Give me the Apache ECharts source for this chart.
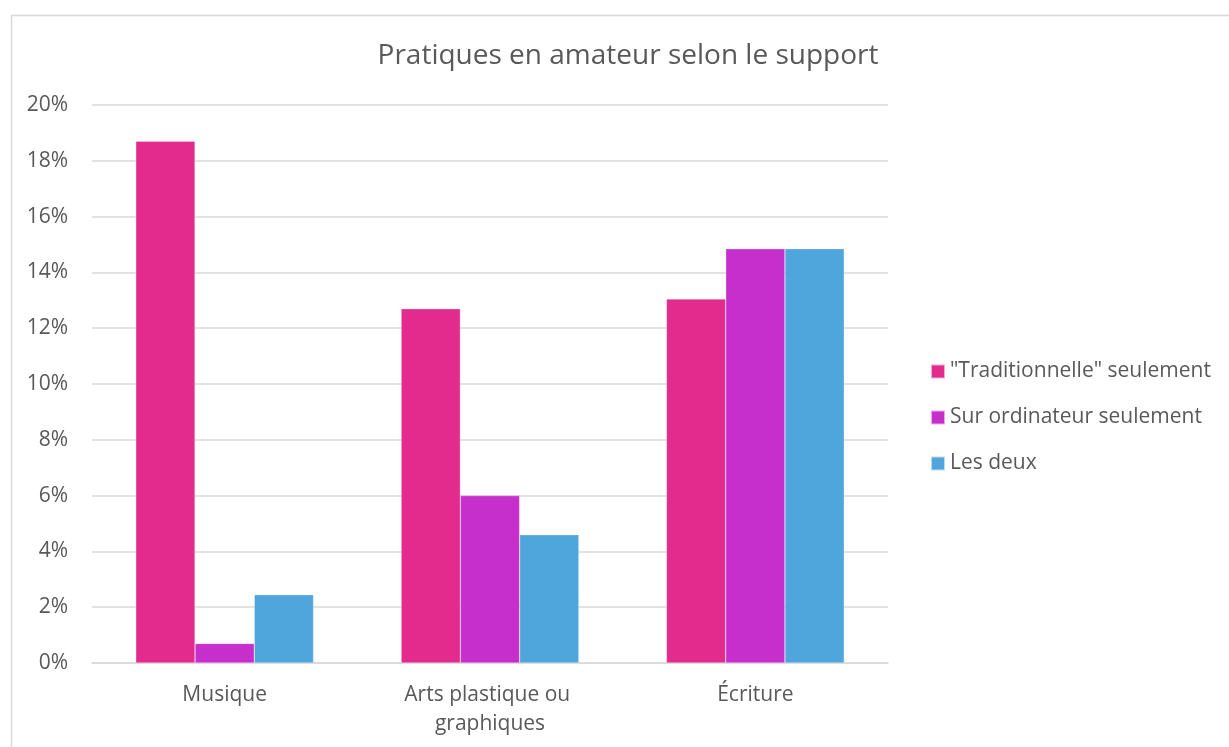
<!DOCTYPE html>
<html>
<head>
<meta charset="utf-8">
<script src="https://cdn.jsdelivr.net/npm/echarts@6/dist/echarts.min.js"></script>
<style>
html,body{margin:0;padding:0;background:#fff;}
#chart{width:1229px;height:747px;}
</style>
</head>
<body>
<div id="chart"></div>
<script>
var titleText = 'Pratiques en amateur selon le support';
var categories = ['Musique', 'Arts plastique ou graphiques', 'Écriture'];
var seriesNames = ['"Traditionnelle" seulement', 'Sur ordinateur seulement', 'Les deux'];
var traditionnelle = [18.7, 12.7, 13.05];
var ordinateur = [0.7, 6.0, 14.85];
var lesDeux = [2.45, 4.6, 14.85];
var colors = ['#E32B8E', '#C62FCB', '#4EA6DC'];
var yTicks = {min: 0, max: 20, interval: 2};

var chart = echarts.init(document.getElementById('chart'), null, {renderer: 'canvas'});
var font = '"Open Sans", "Noto Sans", sans-serif';
var txt = '#595959';
var values = [traditionnelle, ordinateur, lesDeux];
chart.setOption({
  animation: false,
  backgroundColor: '#fff',
  color: colors,
  graphic: [{
    type: 'rect', left: 9, top: 13,
    shape: {width: 1240, height: 760},
    style: {fill: 'none', stroke: '#d9d9d9', lineWidth: 1.5},
    silent: true
  }],
  title: {
    text: titleText,
    left: 623, top: 37, textAlign: 'center',
    textStyle: {fontFamily: font, fontSize: 28, fontWeight: 'normal', color: txt}
  },
  legend: {
    orient: 'vertical', left: 925, top: 356,
    itemWidth: 14, itemHeight: 14, itemGap: 25,
    icon: 'rect',
    textStyle: {fontFamily: font, fontSize: 21, color: txt},
    data: seriesNames
  },
  grid: {left: 92, right: 341, top: 105, bottom: 84, containLabel: false},
  xAxis: {
    type: 'category',
    data: categories,
    axisLine: {lineStyle: {color: '#d9d9d9', width: 1.5}},
    axisTick: {show: false},
    axisLabel: {
      fontFamily: font, fontSize: 21, color: txt, margin: 18,
      lineHeight: 29, width: 210, overflow: 'break', interval: 0
    }
  },
  yAxis: {
    type: 'value', min: yTicks.min, max: yTicks.max, interval: yTicks.interval,
    axisLine: {show: false}, axisTick: {show: false},
    splitLine: {lineStyle: {color: '#d9d9d9', width: 1.5}},
    axisLabel: {fontFamily: font, fontSize: 21, color: txt, margin: 24, formatter: '{value}%'}
  },
  series: seriesNames.map(function (n, i) {
    return {
      name: n, type: 'bar', data: values[i],
      barGap: '0%', barCategoryGap: '33%',
      itemStyle: {color: colors[i], borderColor: 'rgba(255,255,255,0.6)', borderWidth: 0.5}
    };
  })
});
</script>
</body>
</html>
